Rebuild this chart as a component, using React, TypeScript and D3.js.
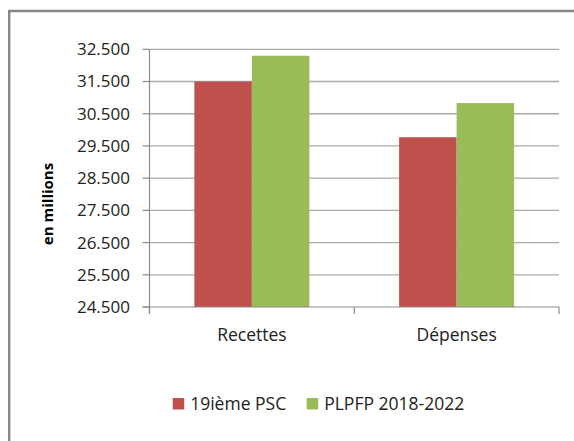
import React, { useEffect, useRef } from "react";
import { select, scaleBand, scaleLinear, range } from "d3";

const categories = ["Recettes", "Dépenses"];
const seriesNames = ["19ième PSC", "PLPFP 2018-2022"];
const psc19 = [31500, 29770];
const plpfp = [32300, 30830];
const yTicks = range(24500, 32501, 1000);
const colors = ["#C0504D", "#9BBB59"];

const W = 574;
const H = 441;
const FONT = "'Open Sans', sans-serif";

const fmt = (v: number) => {
  const s = String(v);
  return s.slice(0, s.length - 3) + "." + s.slice(-3);
};

const App = () => {
  const svgRef = useRef<SVGSVGElement>(null);

  useEffect(() => {
    const svg = select(svgRef.current);
    svg.selectAll("*").remove();

    const left = 149.5;
    const right = 559;
    const top = 49.3;
    const bottom = 307;

    const y = scaleLinear().domain([24500, 32500]).range([bottom, top]);
    const x0 = scaleBand().domain(categories).range([left, right]).padding(0);
    const x1 = scaleBand()
      .domain(seriesNames)
      .range([0, x0.bandwidth()])
      .paddingInner(0)
      .paddingOuter(0.78);

    // outer frame
    svg
      .append("path")
      .attr("d", `M9.2,${H + 5}V11H${W + 5}`)
      .attr("fill", "none")
      .attr("stroke", "#878787")
      .attr("stroke-width", 2.4);

    // gridlines + y ticks
    const g = svg.append("g");
    yTicks.forEach((t) => {
      if (t !== 24500) {
        g.append("line")
          .attr("x1", left)
          .attr("x2", right)
          .attr("y1", y(t))
          .attr("y2", y(t))
          .attr("stroke", "#ababab")
          .attr("stroke-width", 1.3);
      }
      g.append("line")
        .attr("x1", left - 7)
        .attr("x2", left)
        .attr("y1", y(t))
        .attr("y2", y(t))
        .attr("stroke", "#8c8c8c")
        .attr("stroke-width", 1.2);
      g.append("text")
        .attr("x", 130)
        .attr("y", y(t))
        .attr("dy", "0.35em")
        .attr("text-anchor", "end")
        .attr("font-family", FONT)
        .attr("font-size", 17)
        .attr("fill", "#222")
        .text(fmt(t));
    });

    // bars
    const series = [psc19, plpfp];
    series.forEach((vals, si) => {
      svg
        .append("g")
        .selectAll("rect")
        .data(vals)
        .join("rect")
        .attr("x", (_d, i) => (x0(categories[i]) as number) + (x1(seriesNames[si]) as number))
        .attr("width", x1.bandwidth())
        .attr("y", (d) => y(d))
        .attr("height", (d) => bottom - y(d))
        .attr("fill", colors[si]);
    });

    // axes
    svg
      .append("line")
      .attr("x1", left)
      .attr("x2", left)
      .attr("y1", top)
      .attr("y2", bottom + 7)
      .attr("stroke", "#8c8c8c")
      .attr("stroke-width", 1.2);
    svg
      .append("line")
      .attr("x1", left - 7)
      .attr("x2", right)
      .attr("y1", bottom)
      .attr("y2", bottom)
      .attr("stroke", "#8c8c8c")
      .attr("stroke-width", 1.2);
    const xTickPos = [left, ...categories.map((c) => (x0(c) as number) + x0.bandwidth())];
    xTickPos.forEach((p) => {
      svg
        .append("line")
        .attr("x1", p)
        .attr("x2", p)
        .attr("y1", bottom)
        .attr("y2", bottom + 7)
        .attr("stroke", "#8c8c8c")
        .attr("stroke-width", 1.2);
    });

    categories.forEach((c) => {
      svg
        .append("text")
        .attr("x", (x0(c) as number) + x0.bandwidth() / 2)
        .attr("y", 340.5)
        .attr("text-anchor", "middle")
        .attr("font-family", FONT)
        .attr("font-size", 17.5)
        .attr("fill", "#222")
        .text(c);
    });

    // y title
    svg
      .append("text")
      .attr("transform", "translate(52.5,204) rotate(-90)")
      .attr("text-anchor", "middle")
      .attr("font-family", FONT)
      .attr("font-size", 15)
      .attr("font-weight", "bold")
      .attr("fill", "#000")
      .text("en millions");

    // legend
    const legendX = [172.7, 306.7];
    seriesNames.forEach((n, i) => {
      svg
        .append("rect")
        .attr("x", legendX[i])
        .attr("y", 398)
        .attr("width", 11.5)
        .attr("height", 11.5)
        .attr("fill", colors[i]);
      svg
        .append("text")
        .attr("x", legendX[i] + 17.5)
        .attr("y", 409.5)
        .attr("font-family", FONT)
        .attr("font-size", 17.5)
        .attr("fill", "#222")
        .text(n);
    });
  }, []);

  return (
    <svg
      ref={svgRef}
      width={W}
      height={H}
      style={{ position: "absolute", left: 0, top: 0, background: "#fff" }}
    />
  );
};

export default App;
